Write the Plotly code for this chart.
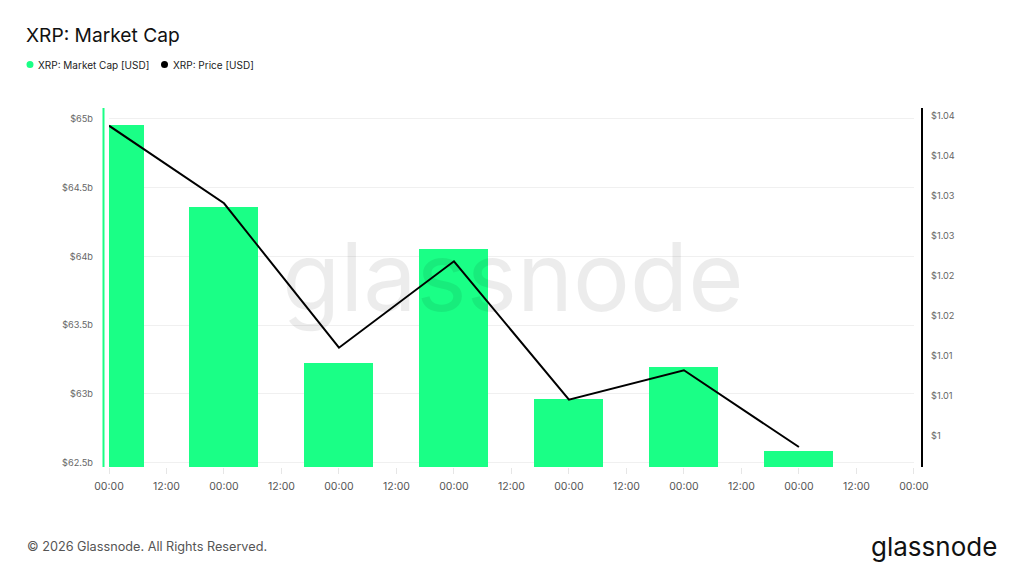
import plotly.graph_objects as go

# Daily XRP data
dates = ["2026-01-05", "2026-01-06", "2026-01-07", "2026-01-08",
         "2026-01-09", "2026-01-10", "2026-01-11"]
market_cap_b = [64.956, 64.359, 63.226, 64.055, 62.961, 63.194, 62.583]
price_usd = [1.03875, 1.02905, 1.0110, 1.0218, 1.0045, 1.00818, 0.99859]

cap_ticks = [62.5, 63, 63.5, 64, 64.5, 65]
cap_labels = ["$62.5b", "$63b", "$63.5b", "$64b", "$64.5b", "$65b"]
price_ticks = [1.0, 1.005, 1.01, 1.015, 1.02, 1.025, 1.03, 1.035, 1.04]
price_labels = ["$1", "$1.01", "$1.01", "$1.02", "$1.02", "$1.03", "$1.03", "$1.04", "$1.04"]

series_names = ["XRP: Market Cap [USD]", "XRP: Price [USD]"]

GREEN = "#1aff86"
DAY_MS = 86400000

# the page puts the figure 8px in from the top-left corner
OFF = 8
W, H = 1024 - OFF, 576 - OFF
PL, PT, PW, PH = 109 - OFF, 108 - OFF, 805, 359


def px(x):
    return (x - OFF - PL) / PW


def py(y):
    return 1 - (y - OFF - PT) / PH


fig = go.Figure()

fig.add_trace(go.Bar(
    x=dates, y=market_cap_b, width=0.6 * DAY_MS,
    marker=dict(color=GREEN, line=dict(width=0)),
    name=series_names[0], showlegend=False,
))
fig.add_trace(go.Scatter(
    x=dates, y=price_usd, yaxis="y2", mode="lines",
    line=dict(color="black", width=2),
    name=series_names[1], showlegend=False,
))

# legend drawn by hand: dots + labels
legend_shapes = []
legend_notes = []
for cx, tx, col, name in [(30, 36, GREEN, series_names[0]),
                          (164.5, 170.5, "black", series_names[1])]:
    legend_shapes.append(dict(
        type="circle", xref="paper", yref="paper",
        x0=px(cx - 3.5), x1=px(cx + 3.5), y0=py(64.5 + 3.5), y1=py(64.5 - 3.5),
        fillcolor=col, line=dict(width=0)))
    legend_notes.append(dict(
        text=name, xref="paper", yref="paper", x=px(tx), y=py(64.5),
        xanchor="left", yanchor="middle", showarrow=False,
        font=dict(size=10, color="#222222")))

fig.update_layout(
    width=W, height=H,
    margin=dict(l=PL, r=W - PL - PW, t=PT, b=H - PT - PH),
    paper_bgcolor="white", plot_bgcolor="white",
    font=dict(family="Inter, Roboto, sans-serif", color="#666666", size=10),
    showlegend=False,
    title=dict(text="XRP: Market Cap", x=(26 - OFF) / W, xanchor="left",
               y=1 - (35 - OFF) / H, yanchor="middle",
               font=dict(size=19.2, color="#111111")),
    bargap=0,
    xaxis=dict(
        type="date",
        range=["2026-01-05 00:00", "2026-01-12 00:01"],
        dtick=DAY_MS / 2, tick0="2026-01-05", tickformat="%H:%M",
        ticks="outside", ticklen=6, tickcolor="#e6e6e6",
        ticklabelstandoff=3,
        showgrid=False, zeroline=False, showline=False,
        tickfont=dict(size=10.5, color="#555555"),
    ),
    yaxis=dict(
        range=[62.469, 65.079],
        tickvals=cap_ticks, ticktext=cap_labels,
        showgrid=True, gridcolor="#f0f0f0", gridwidth=1,
        zeroline=False, showline=False, ticks="",
        ticklabelstandoff=15,
        tickfont=dict(size=9.2, color="#666666"),
    ),
    yaxis2=dict(
        overlaying="y", side="right",
        range=[0.99609, 1.04096],
        tickvals=price_ticks, ticktext=price_labels,
        showgrid=False, zeroline=False, showline=False, ticks="",
        ticklabelstandoff=16,
        tickfont=dict(size=9.2, color="#666666"),
    ),
    shapes=[
        dict(type="line", xref="paper", yref="paper",
             x0=px(103.5), x1=px(103.5), y0=0, y1=1,
             line=dict(color=GREEN, width=2)),
        dict(type="line", xref="paper", yref="paper",
             x0=px(922), x1=px(922), y0=0, y1=1,
             line=dict(color="black", width=2)),
    ] + legend_shapes,
    annotations=[
        dict(text="glassnode", xref="paper", yref="paper",
             x=px(513), y=py(276),
             xanchor="center", yanchor="middle", showarrow=False,
             font=dict(size=95, color="rgba(0,0,0,0.075)",
                       family="Inter, sans-serif")),
        dict(text="© 2026 Glassnode. All Rights Reserved.",
             xref="paper", yref="paper", x=px(25), y=py(546),
             xanchor="left", yanchor="middle", showarrow=False,
             font=dict(size=12.7, color="#555555")),
        dict(text="glassnode", xref="paper", yref="paper",
             x=px(999), y=py(546),
             xanchor="right", yanchor="middle", showarrow=False,
             font=dict(size=26, color="#111111")),
    ] + legend_notes,
)

fig.write_html("out.html")
